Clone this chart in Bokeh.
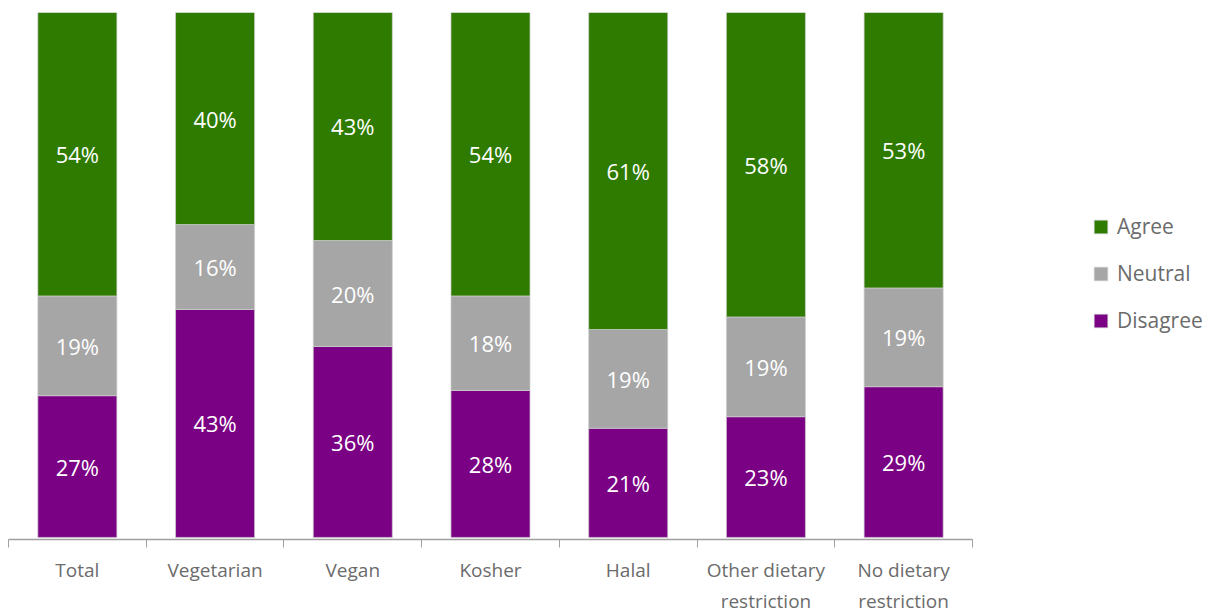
from bokeh.plotting import figure
from bokeh.models import ColumnDataSource, Range1d, FixedTicker, Legend, LegendItem
from bokeh.core.properties import value
from bokeh.embed import file_html
from bokeh.resources import INLINE

categories = ["Total", "Vegetarian", "Vegan", "Kosher", "Halal",
              "Other dietary restriction", "No dietary restriction"]
tick_labels = ["Total", "Vegetarian", "Vegan", "Kosher", "Halal",
               "Other dietary\nrestriction", "No dietary\nrestriction"]
agree = [54, 40, 43, 54, 61, 58, 53]
neutral = [19, 16, 20, 18, 19, 19, 19]
disagree = [27, 43, 36, 28, 21, 23, 29]

GREEN = "#2e7b00"
GRAY = "#a6a6a6"
PURPLE = "#7a0084"
FONT = "Open Sans"

xs = [i + 0.5 for i in range(len(categories))]
tot = [a + n + d for a, n, d in zip(agree, neutral, disagree)]
d_s = [d / t * 100 for d, t in zip(disagree, tot)]
n_s = [n / t * 100 for n, t in zip(neutral, tot)]
a_s = [a / t * 100 for a, t in zip(agree, tot)]

src = ColumnDataSource(dict(
    x=xs, d_s=d_s, n_s=n_s, a_s=a_s,
    d_mid=[d / 2 for d in d_s],
    n_mid=[d + n / 2 for d, n in zip(d_s, n_s)],
    a_mid=[d + n + a / 2 for d, n, a in zip(d_s, n_s, a_s)],
    d_lab=[f"{v}%" for v in disagree],
    n_lab=[f"{v}%" for v in neutral],
    a_lab=[f"{v}%" for v in agree],
))

W, H = 1211, 616
LEFT = 8
n = len(categories)
unit = 964 / n
p = figure(width=W, height=H, output_backend="svg", toolbar_location=None,
           x_range=Range1d(0, (W - LEFT) / unit), y_range=Range1d(-0.4, 100),
           min_border_left=LEFT, min_border_right=0, min_border_top=12,
           min_border_bottom=76)
p.outline_line_color = None
p.xgrid.visible = False
p.ygrid.visible = False
p.yaxis.visible = False
p.background_fill_color = "white"

rs = p.vbar_stack(["d_s", "n_s", "a_s"], x="x", width=0.574,
                  color=[PURPLE, GRAY, GREEN], source=src,
                  line_color="#cfcfcf", line_width=1, line_alpha=0.7)

for ycol, tcol in [("d_mid", "d_lab"), ("n_mid", "n_lab"), ("a_mid", "a_lab")]:
    p.text(x="x", y=ycol, text=tcol, source=src, text_align="center",
           text_baseline="middle", text_color="white",
           text_font=value(FONT), text_font_size="22px")

ax = p.xaxis[0]
ax.ticker = FixedTicker(ticks=xs, minor_ticks=list(range(n + 1)))
ax.bounds = (0, n)
ax.major_label_overrides = {x: lab for x, lab in zip(xs, tick_labels)}
ax.major_tick_out = 0
ax.major_tick_in = 0
ax.major_tick_line_color = None
ax.minor_tick_out = 8
ax.minor_tick_in = 0
ax.minor_tick_line_color = "#a0a0a0"
ax.axis_line_color = "#a0a0a0"
ax.axis_line_width = 1.5
ax.major_label_standoff = 9
ax.major_label_text_font = FONT
ax.major_label_text_font_size = "19px"
ax.major_label_text_color = "#6b6b6b"

legend = Legend(items=[
    LegendItem(label="Agree", renderers=[rs[2]]),
    LegendItem(label="Neutral", renderers=[rs[1]]),
    LegendItem(label="Disagree", renderers=[rs[0]]),
], location=(1084, 205), orientation="vertical")
legend.glyph_width = 17
legend.glyph_height = 17
legend.label_height = 20
legend.spacing = 19
legend.padding = 0
legend.margin = 0
legend.border_line_color = None
legend.background_fill_alpha = 0
legend.label_text_font = FONT
legend.label_text_font_size = "21px"
legend.label_text_color = "#6b6b6b"
legend.label_standoff = 8
p.add_layout(legend)

open("out.html", "w").write(file_html(p, INLINE))
